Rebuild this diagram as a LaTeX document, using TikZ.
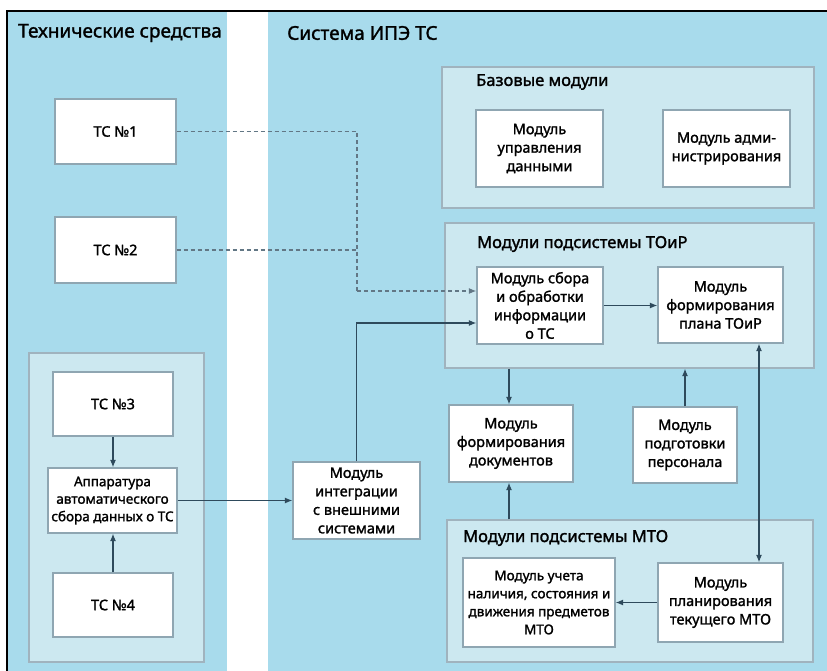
\documentclass[tikz,border=0pt]{standalone}
\usepackage{fontspec}
\setmainfont{Noto Sans}[FakeBold=1.5]
\usetikzlibrary{arrows.meta,calc}
\definecolor{bgblue}{HTML}{A8DBEC}
\definecolor{panelc}{HTML}{CCE8F0}
\definecolor{edgec}{HTML}{8FA6B2}
\definecolor{linec}{HTML}{2E4A5C}
\begin{document}
\begin{tikzpicture}[x=1pt,y=-1pt,
  box/.style={draw=edgec, line width=1.3pt, fill=white, align=center,
    font=\fontsize{14.5}{18.5}\selectfont, inner sep=2pt,
    preaction={fill=edgec!70, transform canvas={shift={(1.2pt,-1.2pt)}}}},
  panel/.style={draw=edgec!85, line width=1.3pt, fill=panelc},
  conn/.style={draw=linec, line width=1.1pt, -{Latex[length=7.5pt,width=6pt]}},
  dconn/.style={draw=linec, line width=1.1pt, {Latex[length=7.5pt,width=6pt]}-{Latex[length=7.5pt,width=6pt]}},
  dashline/.style={draw=linec!75, line width=1.1pt, dash pattern=on 4pt off 3pt},
  bigtitle/.style={anchor=west, font=\fontsize{19}{23}\selectfont, inner sep=0pt},
  ptitle/.style={anchor=west, font=\fontsize{16.5}{20}\selectfont, inner sep=0pt}
]
\useasboundingbox (0,0) rectangle (827,671);
% backgrounds
\fill[white] (0,0) rectangle (827,671);
\fill[bgblue] (7,11) rectangle (227,671);
\fill[white] (227,11) rectangle (268,671);
\fill[bgblue] (268,11) rectangle (827,671);
\draw[line width=2.5pt] (7,671) -- (7,11) -- (827,11);

% titles
\node[bigtitle] (tleft) at (18,33) {Технические средства};
\node[bigtitle] (tright) at (287,33) {Система ИПЭ ТС};

% panels
\node[panel, minimum width=175pt, minimum height=309pt] (grp) at (116.5,507.5) {};
\node[panel, minimum width=372pt, minimum height=141pt] (base) at (628,137.5) {};
\node[panel, minimum width=369pt, minimum height=145pt] (toir) at (629.5,295.5) {};
\node[panel, minimum width=366pt, minimum height=142pt] (mto) at (630,591) {};

\node[ptitle] (tbase) at (476,82) {Базовые модули};
\node[ptitle] (ttoir) at (477,244) {Модули подсистемы ТОиР};
\node[ptitle] (tmto) at (463,538) {Модули подсистемы МТО};

% boxes
\node[box, minimum width=121pt, minimum height=65pt] (tc1) at (115.5,131.5) {ТС №1};
\node[box, minimum width=121pt, minimum height=66pt] (tc2) at (115.5,250) {ТС №2};
\node[box, minimum width=120pt, minimum height=64pt] (tc3) at (113,404) {ТС №3};
\node[box, minimum width=129pt, minimum height=65pt, font=\fontsize{13.5}{17.5}\selectfont] (app) at (112.5,500.5) {Аппаратура\\автоматического\\сбора данных о ТС};
\node[box, minimum width=120pt, minimum height=64pt] (tc4) at (113,605) {ТС №4};
\node[box, minimum width=127pt, minimum height=77pt] (integ) at (356.5,500.5) {Модуль\\интеграции\\с внешними\\системами};
\node[box, minimum width=127pt, minimum height=77pt] (data) at (539.5,148.5) {Модуль\\управления\\данными};
\node[box, minimum width=127pt, minimum height=77pt] (admin) at (726.5,148.5) {Модуль адми-\\нистрирования};
\node[box, minimum width=126pt, minimum height=77pt] (collect) at (540,305.5) {Модуль сбора\\и обработки\\информации\\о ТС};
\node[box, minimum width=125pt, minimum height=76pt] (plan) at (720.5,305) {Модуль\\формирования\\плана ТОиР};
\node[box, minimum width=124pt, minimum height=77pt] (docs) at (511,443.5) {Модуль\\формирования\\документов};
\node[box, minimum width=104pt, minimum height=76pt] (pers) at (685,445) {Модуль\\подготовки\\персонала};
\node[box, minimum width=152pt, minimum height=89pt, font=\fontsize{13.5}{18}\selectfont] (acc) at (539,602.5) {Модуль учета\\наличия, состояния и\\движения предметов\\МТО};
\node[box, minimum width=125pt, minimum height=79pt] (mplan) at (720.5,602.5) {Модуль\\планирования\\текущего МТО};

% connectors
\coordinate (dj) at (357,291);
\coordinate (sj) at (357,323);
\coordinate (dtop) at ($(plan.south)+(38.5,0)$);
\draw[dashline] (tc1.east) -| (dj);
\draw[dashline] (tc2.east) -- (tc2.east -| dj);
\draw[dashline, -{Latex[length=7.5pt,width=6pt]}] (dj) -- (dj -| collect.west);
\draw[conn] (integ.north) |- (sj -| collect.west);
\draw[conn] (app.east) -- (integ.west);
\draw[conn] (tc3.south) -- (app.north -| tc3.south);
\draw[conn] (tc4.north) -- (app.south -| tc4.north);
\draw[conn] (collect.east) -- (collect.east -| plan.west);
\draw[conn] ($(docs.north |- toir.south)+(-2,0)$) -- ($(docs.north)+(-2,0)$);
\draw[conn] ($(docs.south |- mto.north)+(-2,0)$) -- ($(docs.south)+(-2,0)$);
\draw[conn] (pers.north) -- (pers.north |- toir.south);
\draw[dconn] (dtop) -- (dtop |- mplan.north);
\draw[conn] (mplan.west) -- (mplan.west -| acc.east);
\end{tikzpicture}
\end{document}
